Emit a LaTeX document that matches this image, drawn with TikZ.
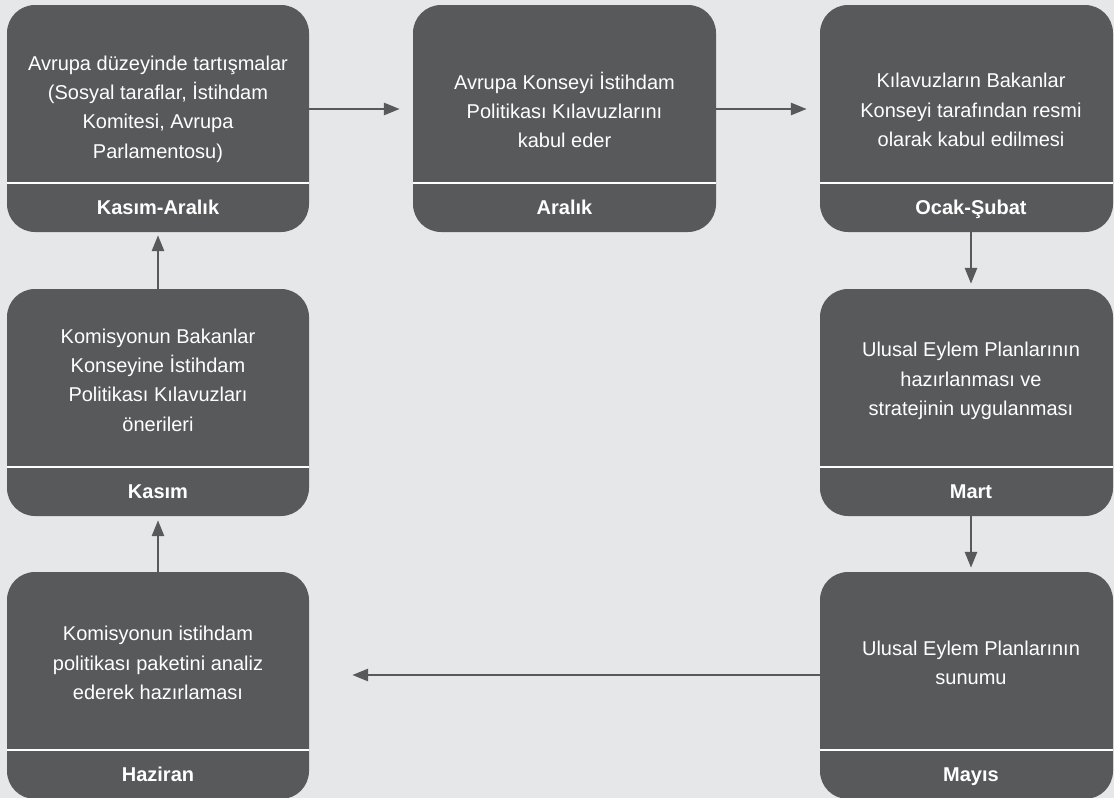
\documentclass[tikz,border=0pt]{standalone}
\usepackage{fontspec}
\setmainfont{Liberation Sans}
\usetikzlibrary{arrows.meta}
\definecolor{bggray}{RGB}{230,231,232}
\definecolor{boxgray}{RGB}{88,89,91}
\tikzset{
  stagebox/.style={draw=none, fill=boxgray, rounded corners=28pt, minimum height=227pt, inner sep=0pt},
  bodytext/.style={text=white, align=center, inner sep=0pt, font=\fontsize{20}{29.4}\selectfont},
  monthtext/.style={text=white, align=center, inner sep=0pt, anchor=base, font=\fontsize{20}{24}\selectfont\bfseries},
  divider/.style={draw=white, line width=2.5pt},
  flow/.style={draw=boxgray, line width=2.8pt, -{Triangle[length=16pt, width=12pt]}}
}
\begin{document}
\begin{tikzpicture}[x=1pt, y=-1pt]
\fill[bggray] (0,0) rectangle (1114,798);
\useasboundingbox (0,0) rectangle (1114,798);
\clip (0,0) rectangle (1114,798);
% boxes
\node[stagebox, minimum width=302pt] (b1) at (158,118.5) {};
\node[stagebox, minimum width=303pt] (b2) at (564.5,118.5) {};
\node[stagebox, minimum width=293pt] (b3) at (966.5,118.5) {};
\node[stagebox, minimum width=302pt] (b4) at (158,402.5) {};
\node[stagebox, minimum width=293pt] (b5) at (966.5,402.5) {};
\node[stagebox, minimum width=302pt] (b6) at (158,685.5) {};
\node[stagebox, minimum width=293pt] (b7) at (966.5,685.5) {};
% dividers
\foreach \b in {b1,b2,b3,b4,b5,b6,b7}{
  \draw[divider] ([yshift=49pt]\b.south west) -- ([yshift=49pt]\b.south east);
}
% body texts
\node[bodytext] (t1) at (158,109) {Avrupa düzeyinde tartışmalar\\(Sosyal taraflar, İstihdam\\Komitesi, Avrupa\\Parlamentosu)};
\node[bodytext] (t2) at (564.5,110) {Avrupa Konseyi İstihdam\\Politikası Kılavuzlarını\\kabul eder};
\node[bodytext] (t3) at (971,110) {Kılavuzların Bakanlar\\Konseyi tarafından resmi\\olarak kabul edilmesi};
\node[bodytext] (t4) at (158,380) {Komisyonun Bakanlar\\Konseyine İstihdam\\Politikası Kılavuzları\\önerileri};
\node[bodytext] (t5) at (971,381) {Ulusal Eylem Planlarının\\hazırlanması ve\\stratejinin uygulanması};
\node[bodytext] (t6) at (158,663) {Komisyonun istihdam\\politikası paketini analiz\\ederek hazırlaması};
\node[bodytext] (t7) at (971,663) {Ulusal Eylem Planlarının\\sunumu};
% month labels
\node[monthtext] (m1) at (158,214.5) {Kasım-Aralık};
\node[monthtext] (m2) at (564.5,214.5) {Aralık};
\node[monthtext] (m3) at (971,214.5) {Ocak-Şubat};
\node[monthtext] (m4) at (158,498) {Kasım};
\node[monthtext] (m5) at (971,498) {Mart};
\node[monthtext] (m6) at (158,781) {Haziran};
\node[monthtext] (m7) at (971,781) {Mayıs};
% connectors
\draw[flow, shorten >=13pt] ([yshift=9.5pt]b1.east) -- ([yshift=9.5pt]b2.west);
\draw[flow, shorten >=13pt] ([yshift=9.5pt]b2.east) -- ([yshift=9.5pt]b3.west);
\draw[flow, shorten >=5pt] ([xshift=4.5pt]b3.south) -- ([xshift=4.5pt]b5.north);
\draw[flow, shorten >=4pt] ([xshift=4.5pt]b5.south) -- ([xshift=4.5pt]b7.north);
\draw[flow, shorten >=43pt] ([yshift=10.5pt]b7.west) -- ([yshift=10.5pt]b6.east);
\draw[flow, shorten >=4pt] (b6.north) -- (b4.south);
\draw[flow, shorten >=3pt] (b4.north) -- (b1.south);
\end{tikzpicture}
\end{document}
